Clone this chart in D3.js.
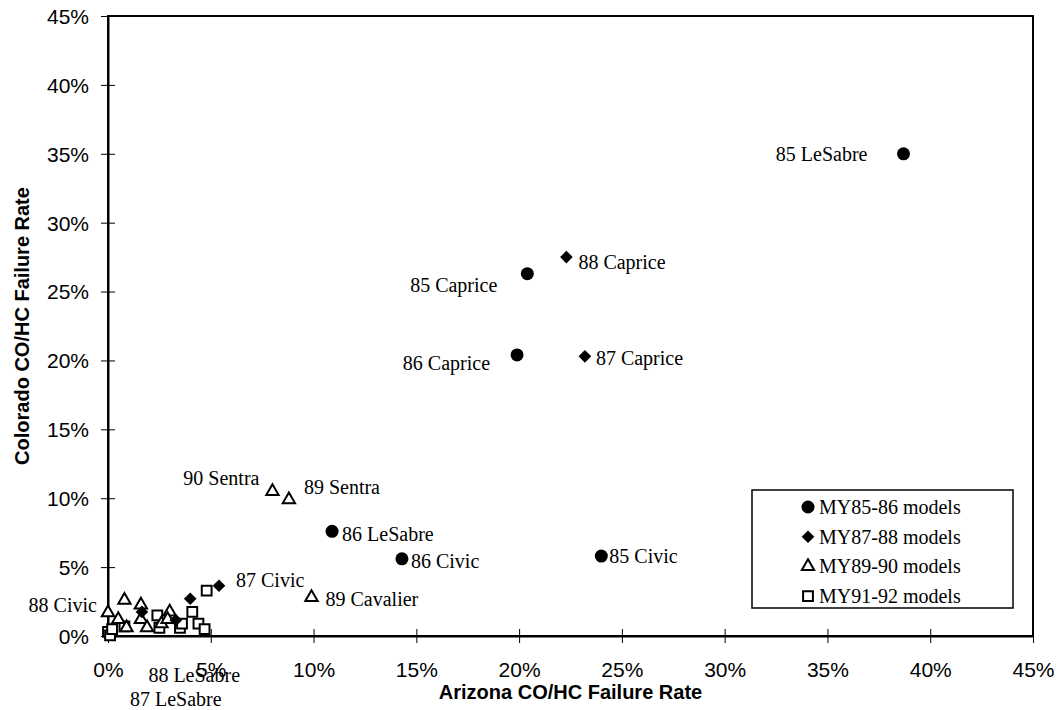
<!DOCTYPE html>
<html><head><meta charset="utf-8">
<script src="https://cdn.jsdelivr.net/npm/d3@7"></script>
<style>body{margin:0;background:#fff}svg{display:block}</style>
</head><body><svg id="c" width="1060" height="710"></svg>
<script>
// ---- data (percent) ----
const my8586 = [
  {x:38.7,y:35.0,label:"85 LeSabre"},
  {x:20.4,y:26.3,label:"85 Caprice"},
  {x:19.9,y:20.4,label:"86 Caprice"},
  {x:10.9,y:7.6,label:"86 LeSabre"},
  {x:14.3,y:5.6,label:"86 Civic"},
  {x:24.0,y:5.8,label:"85 Civic"}
];
const my8788 = [
  {x:22.3,y:27.5,label:"88 Caprice"},
  {x:23.2,y:20.3,label:"87 Caprice"},
  {x:5.4,y:3.65,label:"87 Civic"},
  {x:4.0,y:2.7,label:"88 LeSabre"},
  {x:3.3,y:1.15,label:"87 LeSabre"},
  {x:1.65,y:1.75,label:"88 Civic"}
];
const my8990 = [
  {x:8.0,y:10.5,label:"90 Sentra"},
  {x:8.8,y:9.9,label:"89 Sentra"},
  {x:9.9,y:2.8,label:"89 Cavalier"},
  {x:0.0,y:1.7},{x:0.5,y:1.2},{x:0.8,y:2.6},{x:0.9,y:0.6},
  {x:1.6,y:2.25},{x:1.6,y:1.2},{x:1.9,y:0.6},{x:2.6,y:0.9},
  {x:3.0,y:1.75},{x:2.9,y:1.2}
];
const my9192 = [
  {x:0.0,y:0.3},{x:0.1,y:0.05},{x:0.2,y:0.5},{x:0.8,y:0.7},
  {x:2.4,y:1.5},{x:2.5,y:0.6},{x:3.5,y:0.6},{x:3.6,y:0.9},
  {x:4.1,y:1.75},{x:4.4,y:0.9},{x:4.7,y:0.5},{x:4.8,y:3.3}
];
const seriesNames = ["MY85-86 models","MY87-88 models","MY89-90 models","MY91-92 models"];
const tickValues = [0,5,10,15,20,25,30,35,40,45];
const xTitle = "Arizona CO/HC Failure Rate";
const yTitle = "Colorado CO/HC Failure Rate";

// ---- label placement (pixel offsets, anchor) ----
const labelLayout = {
  "85 LeSabre":[-36,0,"end"], "85 Caprice":[-30,11,"end"], "88 Caprice":[12,5,"start"],
  "86 Caprice":[-27,8,"end"], "87 Caprice":[11,2,"start"], "90 Sentra":[-13,-13,"end"],
  "89 Sentra":[15,-13,"start"], "86 LeSabre":[10,3,"start"], "86 Civic":[9,2,"start"],
  "85 Civic":[8,0,"start"], "87 Civic":[17,-6,"start"], "89 Cavalier":[14,2,"start"],
  "88 Civic":[-45,-7,"end"], "88 LeSabre":[4,76,"middle"], "87 LeSabre":[0,79,"middle"]
};

const svg = d3.select("#c");
const L=108, R=1033, T=16, B=636;
const x = d3.scaleLinear().domain([0,45]).range([L,R]);
const y = d3.scaleLinear().domain([0,45]).range([B,T]);

// frame
svg.append("rect").attr("x",L).attr("y",T).attr("width",R-L).attr("height",B-T)
  .attr("fill","none").attr("stroke","#000").attr("stroke-width",2);

// axes
const fmt = d=>d+"%";
const xa = svg.append("g").attr("transform",`translate(0,${B})`)
  .call(d3.axisBottom(x).tickValues(tickValues).tickFormat(fmt).tickSizeInner(7).tickSizeOuter(0).tickPadding(24));
const ya = svg.append("g").attr("transform",`translate(${L},0)`)
  .call(d3.axisLeft(y).tickValues(tickValues).tickFormat(fmt).tickSizeInner(7).tickSizeOuter(0).tickPadding(12));
[xa,ya].forEach(g=>{
  g.select(".domain").attr("stroke","#000").attr("stroke-width",2);
  g.selectAll(".tick text").attr("font-family","Liberation Sans, Arial, sans-serif")
    .attr("font-size",21).attr("fill","#000");
});
xa.selectAll(".tick line").attr("y1",-7).attr("y2",7).attr("stroke","#000");
ya.selectAll(".tick line").attr("x1",-7).attr("x2",7).attr("stroke","#000");
xa.selectAll(".tick text").attr("dy","0.71em").attr("y",26);
ya.selectAll(".tick text").attr("dy","0.35em");

// titles
svg.append("text").attr("x",(L+R)/2).attr("y",699).attr("text-anchor","middle")
  .attr("font-family","Liberation Sans, Arial, sans-serif").attr("font-weight","bold").attr("font-size",20)
  .text(xTitle);
svg.append("text").attr("transform",`translate(29,${(T+B)/2}) rotate(-90)`).attr("text-anchor","middle")
  .attr("font-family","Liberation Sans, Arial, sans-serif").attr("font-weight","bold").attr("font-size",20)
  .text(yTitle);

// markers
const shapes = [
  {data:my8586, path:d3.symbol(d3.symbolCircle,133)(), fill:"#000", stroke:"none", rot:0},
  {data:my8788, path:d3.symbol(d3.symbolSquare,80)(), fill:"#000", stroke:"none", rot:45},
  {data:my8990, path:d3.symbol(d3.symbolTriangle,66)(), fill:"#fff", stroke:"#000", rot:0},
  {data:my9192, path:d3.symbol(d3.symbolSquare,96)(), fill:"#fff", stroke:"#000", rot:0}
];
const drawOrder=[3,2,1,0];
drawOrder.forEach(i=>{
  const s=shapes[i];
  svg.append("g").selectAll("path").data(s.data).join("path")
    .attr("d",s.path)
    .attr("transform",d=>`translate(${x(d.x)},${y(d.y)}) rotate(${s.rot})`)
    .attr("fill",s.fill).attr("stroke",s.stroke).attr("stroke-width",2);
});

// labels
const labeled = [...my8586,...my8788,...my8990].filter(d=>d.label);
svg.append("g").selectAll("text").data(labeled).join("text")
  .attr("x",d=>x(d.x)+labelLayout[d.label][0])
  .attr("y",d=>y(d.y)+labelLayout[d.label][1])
  .attr("dy","0.35em")
  .attr("text-anchor",d=>labelLayout[d.label][2])
  .attr("font-family","Liberation Serif, Times New Roman, serif").attr("font-size",20)
  .attr("fill","#000")
  .text(d=>d.label);

// legend
const lg = svg.append("g");
lg.append("rect").attr("x",752).attr("y",490).attr("width",261).attr("height",118)
  .attr("fill","#fff").attr("stroke","#000").attr("stroke-width",1.5);
seriesNames.forEach((n,i)=>{
  const s=shapes[i], cy=507+i*29.7;
  lg.append("path").attr("d",s.path).attr("transform",`translate(808,${cy}) rotate(${s.rot})`)
    .attr("fill",s.fill).attr("stroke",s.stroke).attr("stroke-width",2);
  lg.append("text").attr("x",819).attr("y",cy).attr("dy","0.35em")
    .attr("font-family","Liberation Serif, Times New Roman, serif").attr("font-size",20).text(n);
});
</script></body></html>
